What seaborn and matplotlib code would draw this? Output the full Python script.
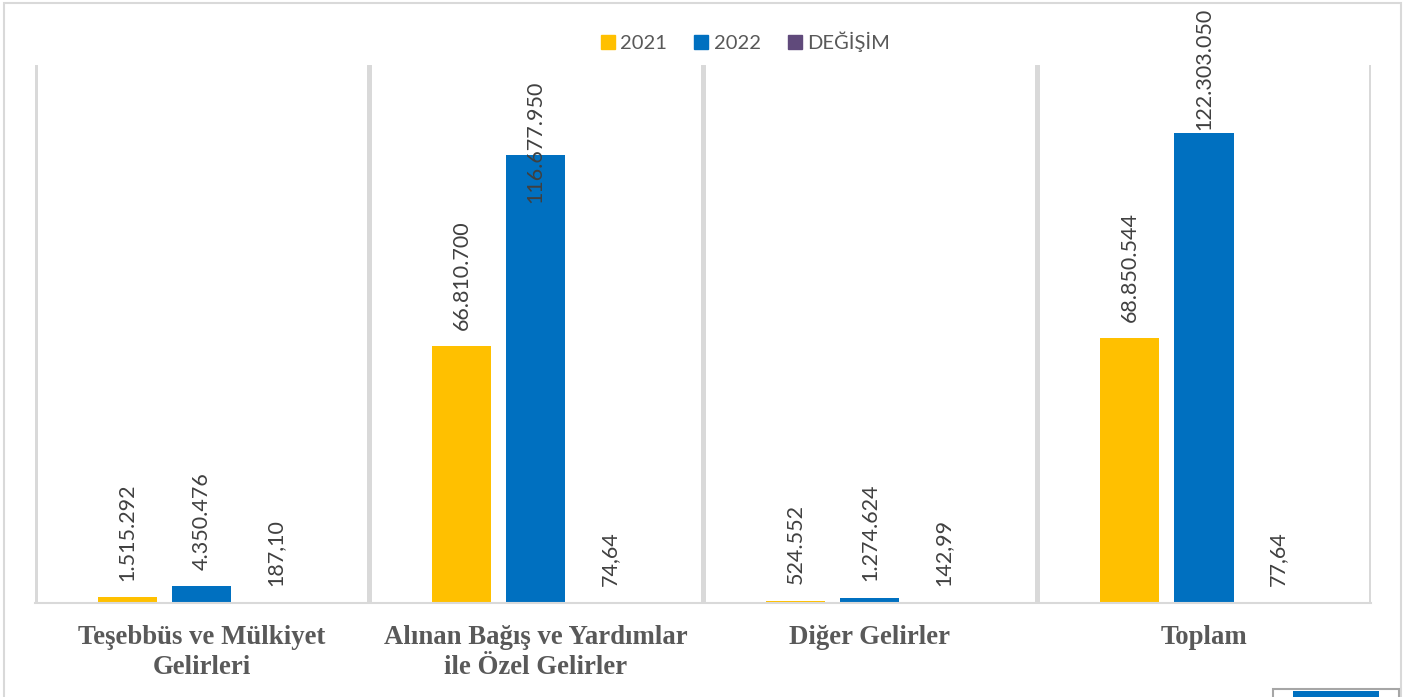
import matplotlib
matplotlib.use("Agg")
import matplotlib.pyplot as plt
from matplotlib.lines import Line2D
from matplotlib.patches import Rectangle
import pandas as pd
import seaborn as sns

categories = ["Teşebbüs ve Mülkiyet\nGelirleri",
              "Alınan Bağış ve Yardımlar\nile Özel Gelirler",
              "Diğer Gelirler",
              "Toplam"]
series = ["2021", "2022", "DEĞİŞİM"]
values_2021 = [1515292, 66810700, 524552, 68850544]
values_2022 = [4350476, 116677950, 1274624, 122303050]
values_change = [187.10, 74.64, 142.99, 77.64]

colors = ["#FFC000", "#0070C0", "#604A7B"]

df = pd.DataFrame({
    "kategori": categories * 3,
    "seri": [s for s in series for _ in categories],
    "deger": values_2021 + values_2022 + values_change,
})

sns.set_style("white")
plt.rcParams["font.family"] = ["Lato", "DejaVu Sans"]

fig = plt.figure(figsize=(14.03, 6.97), dpi=100)
ax = fig.add_axes([34.5 / 1403, 94 / 697, (1371 - 34.5) / 1403, 538 / 697])

sns.barplot(data=df, x="kategori", y="deger", hue="seri", hue_order=series,
            palette=colors, width=0.665, gap=0.2, legend=False, ax=ax,
            saturation=1, linewidth=0)

ax.set_xlim(-0.5, 3.5)
ax.set_ylim(0, 140e6)
ax.set_xlabel("")
ax.set_ylabel("")
ax.set_yticks([])

# vertical separators between categories
ax.set_xticks([-0.5, 0.5, 1.5, 2.5, 3.5], minor=True)
ax.grid(True, which="minor", axis="x", color="#D9D9D9", linewidth=3.6)
ax.set_xticks(range(len(categories)))
ax.set_xticklabels(categories, fontdict={"family": "Liberation Serif",
                                         "weight": "bold", "size": 19.3,
                                         "color": "#595959",
                                         "linespacing": 1.25})
ax.tick_params(axis="x", which="both", length=0)
ax.tick_params(axis="x", which="major", pad=16)

for side in ["left", "right", "top"]:
    ax.spines[side].set_visible(False)
ax.spines["bottom"].set_color("#D9D9D9")
ax.spines["bottom"].set_linewidth(1.5)

# data labels
offset_override = {(1, 1): -35, (1, 3): 2}
for si, cont in enumerate(ax.containers):
    for ci, bar in enumerate(cont):
        v = df[(df["seri"] == series[si])]["deger"].iloc[ci]
        if series[si] == "DEĞİŞİM":
            txt = f"{v:.2f}".replace(".", ",")
        else:
            txt = f"{v:,.0f}".replace(",", ".")
        off = offset_override.get((si, ci), 12)
        ax.annotate(txt, (bar.get_x() + bar.get_width() / 2, bar.get_height()),
                    xytext=(0, off), textcoords="offset points",
                    rotation=90, ha="center", va="bottom",
                    fontsize=15.5, color="#404040", annotation_clip=False)

handles = [Line2D([], [], marker="s", linestyle="", markersize=10.5,
                  markerfacecolor=c, markeredgecolor=c) for c in colors]
fig.legend(handles, series, loc="center", bbox_to_anchor=(744 / 1403, 1 - 42 / 697),
           ncol=3, frameon=False, fontsize=14.5, labelcolor="#595959",
           handletextpad=0.1, columnspacing=1.2, handlelength=1.0)

# outer chart border
fig.patches.append(Rectangle((4 / 1403, -0.01), 1397 / 1403, 1 - 3 / 697 + 0.01,
                             transform=fig.transFigure, fill=False,
                             edgecolor="#D9D9D9", linewidth=1.5))
# small cut-off box in the lower right corner
fig.patches.append(Rectangle((1273 / 1403, -0.01), 126 / 1403, 8 / 697 + 0.01,
                             transform=fig.transFigure, facecolor="white",
                             edgecolor="#A6A6A6", linewidth=1.5))
fig.patches.append(Rectangle((1293 / 1403, -0.01), 86 / 1403, 6 / 697 + 0.01,
                             transform=fig.transFigure, facecolor="#0070C0",
                             edgecolor="none"))

fig.savefig("out.png", dpi=100)
